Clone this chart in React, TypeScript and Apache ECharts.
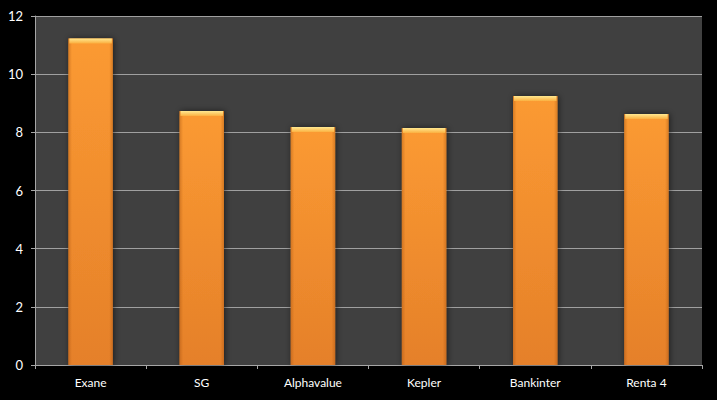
import React, { useEffect, useRef } from "react";
import * as echarts from "echarts";

const categories = ["Exane", "SG", "Alphavalue", "Kepler", "Bankinter", "Renta 4"];
const values = [11.23, 8.73, 8.18, 8.15, 9.25, 8.63];
const yTicks = { min: 0, max: 12, interval: 2 };

export default function App() {
  const ref = useRef<HTMLDivElement>(null);
  useEffect(() => {
    document.body.style.margin = "0";
    document.body.style.background = "#000";
    const chart = echarts.init(ref.current!, undefined, { renderer: "svg" });
    const font = "Lato, 'Open Sans', sans-serif";
    chart.setOption({
      animation: false,
      backgroundColor: "#000000",
      grid: {
        left: 35,
        right: 15,
        top: 16,
        bottom: 35,
        show: true,
        backgroundColor: "#404040",
        borderWidth: 0,
      },
      xAxis: {
        type: "category",
        data: categories,
        axisLine: { show: true, lineStyle: { color: "#a6a6a6", width: 1 } },
        axisTick: { show: true, length: 4, lineStyle: { color: "#a6a6a6" } },
        axisLabel: { color: "#ffffff", fontSize: 12, fontFamily: font, margin: 11 },
        splitLine: { show: false },
      },
      yAxis: {
        type: "value",
        min: yTicks.min,
        max: yTicks.max,
        interval: yTicks.interval,
        axisLine: { show: true, lineStyle: { color: "#a6a6a6", width: 1 } },
        axisTick: { show: true, length: 4, lineStyle: { color: "#a6a6a6" } },
        axisLabel: { color: "#ffffff", fontSize: 13, fontFamily: font, margin: 12 },
        splitLine: { show: true, lineStyle: { color: "#a0a0a0", width: 1 } },
      },
      series: [
        {
          type: "custom",
          data: values.map((v, i) => [i, v]),
          encode: { x: 0, y: 1 },
          renderItem: (params: any, api: any) => {
            const idx = api.value(0);
            const v = api.value(1);
            const top = api.coord([idx, v]);
            const bottom = api.coord([idx, 0]);
            const w = api.size([1, 0])[0] * 0.4;
            const x0 = top[0] - w / 2;
            const h = bottom[1] - top[1];
            return {
              type: "group",
              children: [
                {
                  type: "rect",
                  shape: { x: x0, y: top[1], width: w, height: h },
                  style: {
                    fill: new echarts.graphic.LinearGradient(0, 0, 0, 1, [
                      { offset: 0, color: "#fb9a32" },
                      { offset: 1, color: "#e5802a" },
                    ]),
                    shadowBlur: 6,
                    shadowColor: "rgba(0,0,0,0.55)",
                    shadowOffsetX: 1,
                    shadowOffsetY: 0,
                  },
                },
                {
                  type: "rect",
                  shape: { x: x0, y: top[1], width: w, height: h },
                  style: {
                    fill: new echarts.graphic.LinearGradient(0, 0, 1, 0, [
                      { offset: 0, color: "rgba(150,70,10,0.35)" },
                      { offset: 0.08, color: "rgba(150,70,10,0.0)" },
                      { offset: 0.92, color: "rgba(150,70,10,0.0)" },
                      { offset: 1, color: "rgba(150,70,10,0.35)" },
                    ]),
                  },
                },
                {
                  type: "rect",
                  shape: { x: x0 + 1, y: top[1], width: w - 2, height: 5 },
                  style: {
                    fill: new echarts.graphic.LinearGradient(0, 0, 0, 1, [
                      { offset: 0, color: "#ffe890" },
                      { offset: 1, color: "#fbb040" },
                    ]),
                  },
                },
              ],
            };
          },
        },
      ],
    });
    return () => chart.dispose();
  }, []);
  return <div ref={ref} style={{ width: 717, height: 400 }} />;
}
